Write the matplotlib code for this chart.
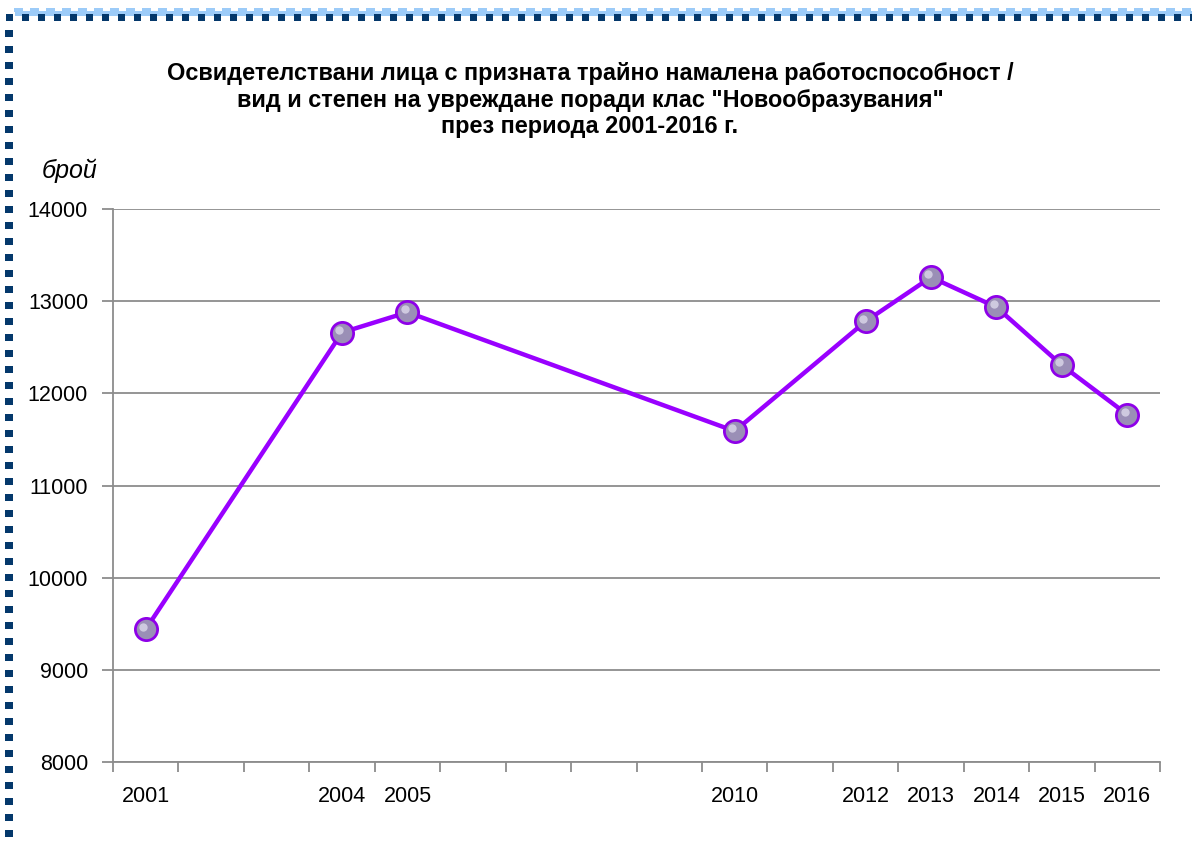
import matplotlib
matplotlib.use("Agg")
import matplotlib.pyplot as plt
from matplotlib.patches import Rectangle
from matplotlib.transforms import offset_copy

# данни
years = [2001, 2004, 2005, 2010, 2012, 2013, 2014, 2015, 2016]
values = [9440, 12660, 12880, 11590, 12780, 13260, 12935, 12305, 11770]
first_year, last_year = 2001, 2016
y_ticks = [8000, 9000, 10000, 11000, 12000, 13000, 14000]

title = ('Освидетелствани лица с призната трайно намалена работоспособност /\n'
         'вид и степен на увреждане поради клас "Новообразувания"\n'
         'през периода 2001-2016 г.')

W, H = 1192, 844
plt.rcParams['font.family'] = ['Liberation Sans', 'DejaVu Sans']

fig = plt.figure(figsize=(W / 100, H / 100), dpi=100)
ax = fig.add_axes([113 / W, 1 - 762 / H, (1160 - 113) / W, (762 - 209) / H])

n_cat = last_year - first_year + 1
xs = [y - first_year + 0.5 for y in years]

line_col = '#9900FF'
ax.plot(xs, values, color=line_col, lw=3.2, zorder=3, solid_capstyle='round')
ax.plot(xs, values, 'o', ms=16, mfc='#9A8FB6', mec='#8E00E8', mew=2, zorder=4)
# малко отблясък, за да прилича на сфера
hl = offset_copy(ax.transData, fig=fig, x=-2, y=2, units='points')
ax.plot(xs, values, 'o', ms=6, mfc='#DCD8EA', mec='none', alpha=0.8, zorder=5, transform=hl)

ax.set_xlim(0, n_cat)
ax.set_ylim(8000, 14000)
ax.set_yticks(y_ticks)
ax.set_yticklabels([str(v) for v in y_ticks], fontsize=15.5)
ax.yaxis.grid(True, color='#8c8c8c', lw=1.3)
ax.set_axisbelow(True)

# етикети само за годините с данни, деленията са между категориите
ax.set_xticks(xs)
ax.set_xticklabels([str(y) for y in years], fontsize=15.5)
ax.tick_params(axis='x', which='major', length=0, pad=17.5)
ax.set_xticks(range(0, n_cat + 1), minor=True)
ax.tick_params(axis='x', which='minor', length=7, width=1.3, color='#8c8c8c')
ax.tick_params(axis='y', length=8, width=1.3, color='#8c8c8c', pad=10)

for s in ['top', 'right']:
    ax.spines[s].set_visible(False)
for s in ['left', 'bottom']:
    ax.spines[s].set_color('#8c8c8c')
    ax.spines[s].set_linewidth(1.3)

fig.text(590 / W, 1 - 100 / H, title, ha='center', va='center', fontsize=16.9,
         fontweight='bold', linespacing=1.22)
fig.text(70 / W, 1 - 171 / H, 'брой', ha='center', va='center', fontsize=18, style='italic')

# рамка
dark = '#04386B'
light = '#9CCBF8'


def px_rect(x, y, w, h, color):
    fig.add_artist(Rectangle((x / W, 1 - (y + h) / H), w / W, h / H,
                             transform=fig.transFigure, color=color, lw=0))


px_rect(15, 11, W - 15, 5, light)
for x in range(14, W, 16):
    px_rect(x, 8, 9, 4, light)
for x in range(6, W, 16):
    px_rect(x, 14, 7, 7, dark)
for y in range(30, H, 16):
    px_rect(5, y, 8, 7, dark)

fig.savefig('out.png', dpi=100)
